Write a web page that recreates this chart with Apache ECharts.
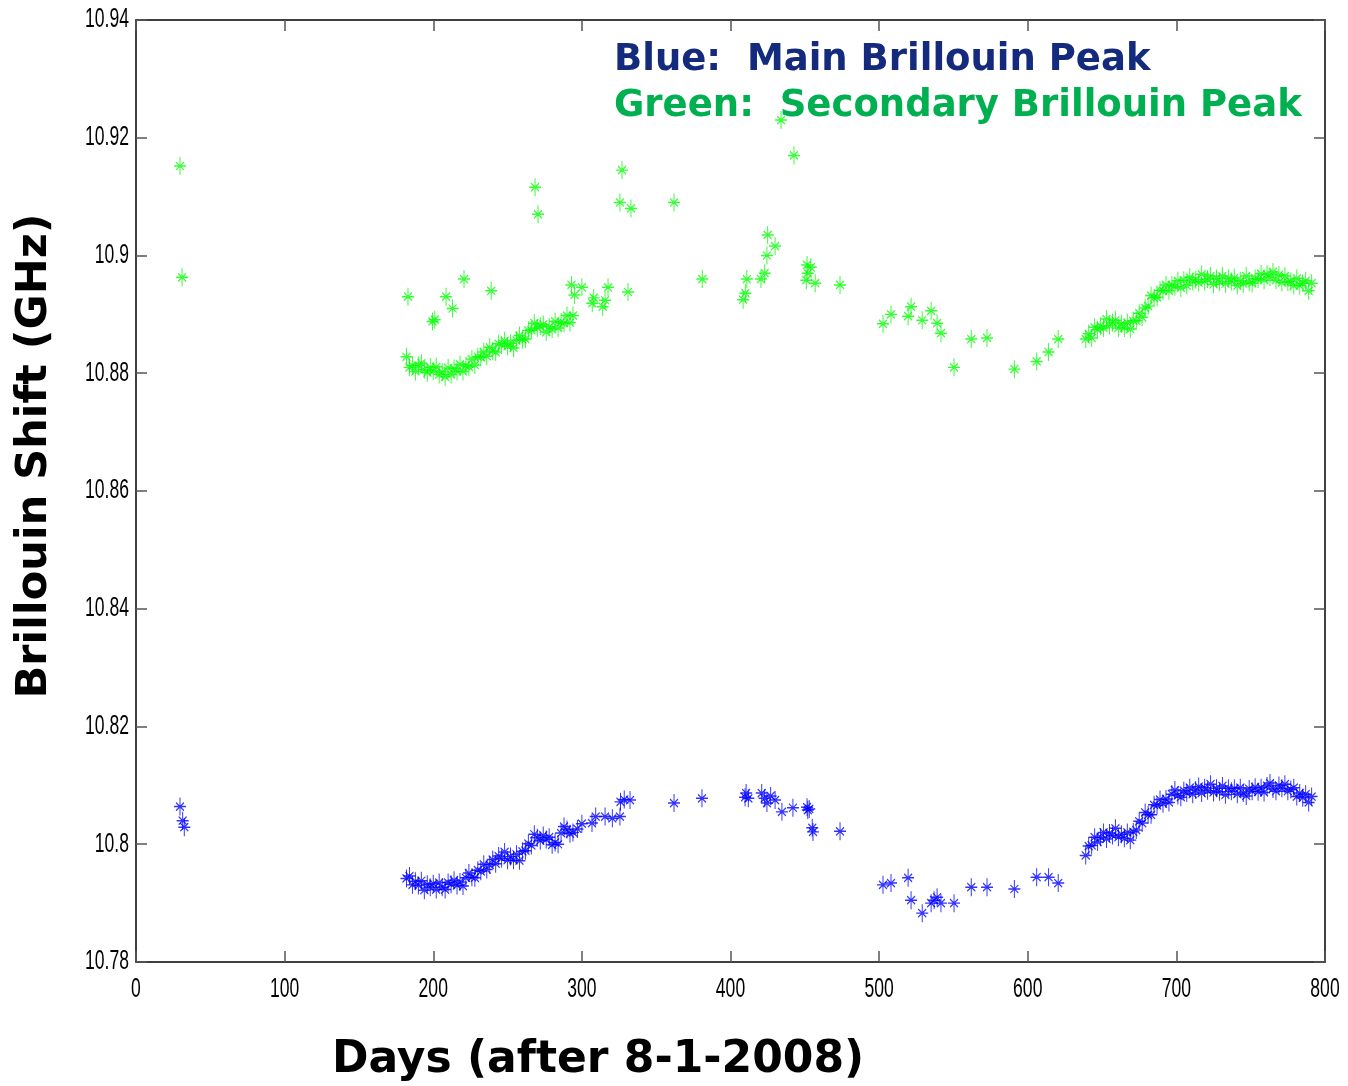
<!DOCTYPE html>
<html>
<head>
<meta charset="utf-8">
<title>Brillouin Shift vs Days</title>
<script src="https://cdn.jsdelivr.net/npm/echarts@6/dist/echarts.min.js"></script>
<style>
  html, body { margin: 0; padding: 0; background: #fff; }
  #chart { width: 1348px; height: 1086px; }
</style>
</head>
<body>
<div id="chart"></div>
<script>
// Main Brillouin peak (blue): measurement day and shift in GHz
const blueDays = [
  29.6, 31.4, 32.5,
  182, 184, 186, 188, 190, 192, 194, 196, 198, 200, 202, 204, 206, 208, 210, 212, 214, 216, 218, 220,
  222, 224, 226, 228, 230, 232, 234, 236, 238, 240, 242, 244, 246, 248, 250, 252, 254, 256, 258, 260,
  262, 264, 266, 268, 270, 272, 274, 276, 278, 280, 282, 284, 286, 288, 290, 292, 294,
  297, 300, 306.8, 309.3, 315.6, 320.5, 325.6, 326, 328.5, 332.4,
  362, 380.8, 409.8, 410.5, 412, 421, 423, 424.5, 427, 430, 434.6, 442, 451.5, 452, 453, 455, 455.5, 473.7,
  502.6, 508, 519.5, 521.5, 529, 535, 537, 539, 541.6, 550.4, 562, 572.6, 591, 606, 614, 620.5,
  639, 641, 643, 645, 647, 649, 651, 653, 655, 657, 659, 661, 663, 665, 667, 669, 671, 673, 675, 677,
  679, 681, 683, 685, 687, 689, 691, 693, 695, 697, 699, 701, 703, 705, 707, 709, 711, 713, 715, 717,
  719, 721, 723, 725, 727, 729, 731, 733, 735, 737, 739, 741, 743, 745, 747, 749, 751, 753, 755, 757,
  759, 761, 763, 765, 767, 769, 771, 773, 775, 777, 779, 781, 783, 785, 787, 789, 791
];
const blueGHz = [
  10.8064, 10.8040, 10.8029,
  10.7942, 10.7946, 10.7931, 10.7937, 10.7930, 10.7938, 10.7922, 10.7932, 10.7927, 10.7933, 10.7923, 10.7935, 10.7927, 10.7923, 10.7935, 10.7932, 10.7939, 10.7930, 10.7936, 10.7929,
  10.7943, 10.7951, 10.7944, 10.7943, 10.7956, 10.7954, 10.7966, 10.7957, 10.7965, 10.7974, 10.7967, 10.7980, 10.7976, 10.7987, 10.7973, 10.7979, 10.7973, 10.7983, 10.7972, 10.7988,
  10.7989, 10.8001, 10.7998, 10.8017, 10.8011, 10.8006, 10.8015, 10.8008, 10.8012, 10.7999, 10.8003, 10.8000, 10.8019, 10.8030, 10.8025, 10.8018, 10.8020,
  10.8026, 10.8035, 10.8036, 10.8047, 10.8047, 10.8044, 10.8047, 10.8072, 10.8076, 10.8075,
  10.8070, 10.8078, 10.8080, 10.8087, 10.8078, 10.8087, 10.8078, 10.8070, 10.8082, 10.8075, 10.8055, 10.8062, 10.8063, 10.8058, 10.8060, 10.8028, 10.8021, 10.8022,
  10.7931, 10.7934, 10.7943, 10.7905, 10.7883, 10.7900, 10.7905, 10.7910, 10.7900, 10.7900, 10.7927, 10.7927, 10.7924, 10.7944, 10.7944, 10.7934,
  10.7981, 10.7997, 10.7998, 10.8012, 10.8004, 10.8012, 10.8020, 10.8009, 10.8019, 10.8015, 10.8027, 10.8012, 10.8017, 10.8010, 10.8020, 10.8007, 10.8021, 10.8024, 10.8039, 10.8036,
  10.8054, 10.8050, 10.8050, 10.8067, 10.8066, 10.8076, 10.8069, 10.8077, 10.8071, 10.8085, 10.8092, 10.8083, 10.8080, 10.8091, 10.8087, 10.8096, 10.8085, 10.8092, 10.8098, 10.8087,
  10.8096, 10.8091, 10.8102, 10.8088, 10.8095, 10.8089, 10.8099, 10.8084, 10.8095, 10.8090, 10.8095, 10.8085, 10.8096, 10.8087, 10.8082, 10.8094, 10.8090, 10.8097, 10.8089, 10.8096,
  10.8088, 10.8099, 10.8104, 10.8094, 10.8090, 10.8100, 10.8095, 10.8102, 10.8090, 10.8093, 10.8096, 10.8081, 10.8087, 10.8079, 10.8085, 10.8071, 10.8081
];

// Secondary Brillouin peak (green): measurement day and shift in GHz
const greenDays = [
  29.6, 31,
  182, 183, 184, 186, 188, 190, 192, 194, 196, 198, 199.5, 200, 201, 202, 204, 206, 208, 208.6, 210, 212, 213, 214, 216, 218, 220, 220.7,
  222, 224, 226, 228, 230, 232, 234, 236, 238, 239, 240, 242, 244, 246, 248, 250, 252, 254, 256, 258, 260,
  262, 264, 266, 268, 268.5, 270, 270.5, 272, 274, 276, 278, 280, 282, 284, 286, 288, 290, 292, 293, 294, 295,
  300, 307, 308, 314, 315.6, 317.6, 325.6, 327, 331, 333,
  362, 381, 408.5, 410, 411, 420.5, 423, 424.5, 425, 430, 434, 442.7, 451, 451.5, 452, 454, 457, 473.7,
  502.6, 508, 519.5, 521.5, 529, 535, 539, 541.6, 550.4, 562, 572.6, 591, 606, 614, 620.5,
  639, 641, 643, 645, 647, 649, 651, 653, 655, 657, 659, 661, 663, 665, 667, 669, 671, 673, 675, 677,
  679, 681, 683, 685, 687, 689, 691, 693, 695, 697, 699, 701, 703, 705, 707, 709, 711, 713, 715, 717,
  719, 721, 723, 725, 727, 729, 731, 733, 735, 737, 739, 741, 743, 745, 747, 749, 751, 753, 755, 757,
  759, 761, 763, 765, 767, 769, 771, 773, 775, 777, 779, 781, 783, 785, 787, 789, 791
];
const greenGHz = [
  10.9152, 10.8963,
  10.8828, 10.8930, 10.8810, 10.8813, 10.8803, 10.8813, 10.8817, 10.8806, 10.8801, 10.8810, 10.8888, 10.8804, 10.8891, 10.8811, 10.8798, 10.8802, 10.8794, 10.8930, 10.8809, 10.8798, 10.8910, 10.8808, 10.8803, 10.8815, 10.8803, 10.8960,
  10.8813, 10.8811, 10.8824, 10.8814, 10.8828, 10.8827, 10.8836, 10.8829, 10.8844, 10.8940, 10.8838, 10.8836, 10.8850, 10.8848, 10.8855, 10.8846, 10.8851, 10.8843, 10.8856, 10.8864, 10.8857,
  10.8858, 10.8873, 10.8873, 10.8885, 10.9116, 10.8877, 10.9070, 10.8880, 10.8883, 10.8870, 10.8879, 10.8875, 10.8888, 10.8877, 10.8887, 10.8885, 10.8898, 10.8886, 10.8950, 10.8898, 10.8933,
  10.8946, 10.8919, 10.8928, 10.8913, 10.8924, 10.8946, 10.9090, 10.9145, 10.8938, 10.9080,
  10.9090, 10.8960, 10.8925, 10.8936, 10.8960, 10.8960, 10.8970, 10.9000, 10.9035, 10.9016, 10.9230, 10.9170, 10.8958, 10.8984, 10.8970, 10.8980, 10.8953, 10.8950,
  10.8884, 10.8900, 10.8897, 10.8913, 10.8890, 10.8906, 10.8885, 10.8868, 10.8810, 10.8858, 10.8860, 10.8807, 10.8820, 10.8836, 10.8858,
  10.8858, 10.8867, 10.8860, 10.8878, 10.8874, 10.8880, 10.8877, 10.8892, 10.8881, 10.8886, 10.8890, 10.8877, 10.8884, 10.8877, 10.8886, 10.8875, 10.8889, 10.8889, 10.8902, 10.8895,
  10.8911, 10.8914, 10.8932, 10.8928, 10.8929, 10.8941, 10.8940, 10.8950, 10.8940, 10.8950, 10.8947, 10.8957, 10.8945, 10.8958, 10.8949, 10.8963, 10.8956, 10.8959, 10.8954, 10.8968,
  10.8956, 10.8960, 10.8965, 10.8951, 10.8961, 10.8955, 10.8965, 10.8952, 10.8961, 10.8956, 10.8962, 10.8949, 10.8957, 10.8952, 10.8965, 10.8955, 10.8953, 10.8961, 10.8960, 10.8969,
  10.8958, 10.8968, 10.8963, 10.8972, 10.8958, 10.8967, 10.8954, 10.8965, 10.8955, 10.8956, 10.8949, 10.8961, 10.8949, 10.8953, 10.8957, 10.8940, 10.8953
];

// Axis ranges and tick labels
const xTickValues = [0, 100, 200, 300, 400, 500, 600, 700, 800];
const xTickLabels = ['0', '100', '200', '300', '400', '500', '600', '700', '800'];
const yTickValues = [10.78, 10.80, 10.82, 10.84, 10.86, 10.88, 10.90, 10.92, 10.94];
const yTickLabels = ['10.78', '10.8', '10.82', '10.84', '10.86', '10.88', '10.9', '10.92', '10.94'];

// MATLAB-style asterisk marker: plus sign with a cross through it
const asterisk = 'path://M0,-9L0,9M-6,0L6,0M-4,-4L4,4M-4,4L4,-4';

const pairs = (xs, ys) => xs.map((x, i) => [x, ys[i]]);

const tickFont = "'Liberation Sans', Arial, sans-serif";
const titleFont = "'DejaVu Sans', Verdana, sans-serif";

function frameAxis(extra) {
  return Object.assign({
    type: 'value',
    axisLine: { show: true, onZero: false, lineStyle: { color: '#000', width: 1.5 } },
    axisTick: { show: true, inside: true, length: 11, lineStyle: { color: '#555', width: 1.5 } },
    splitLine: { show: false },
    axisLabel: { show: false }
  }, extra);
}

const xRange = { min: xTickValues[0], max: xTickValues[xTickValues.length - 1], interval: 100 };
const yRange = { min: yTickValues[0], max: yTickValues[yTickValues.length - 1], interval: 0.02 };

const chart = echarts.init(document.getElementById('chart'), null, { renderer: 'canvas' });

const baseGraphics = [
  {
    type: 'text', x: 614, y: 60,
    style: { text: 'Blue:  Main Brillouin Peak', fill: '#142a7c', font: 'bold 37px ' + titleFont, verticalAlign: 'middle' }
  },
  {
    type: 'text', x: 614, y: 106,
    style: { text: 'Green:  Secondary Brillouin Peak', fill: '#00b050', font: 'bold 37px ' + titleFont, verticalAlign: 'middle' }
  },
  {
    type: 'text', x: 35, y: 456, rotation: Math.PI / 2,
    style: {
      text: 'Brillouin Shift (GHz)', fill: '#000', font: 'bold 43px ' + titleFont,
      align: 'center', verticalAlign: 'middle'
    }
  },
  {
    type: 'text', x: 598, y: 1061,
    style: {
      text: 'Days (after 8-1-2008)', fill: '#000', font: 'bold 44px ' + titleFont,
      align: 'center', verticalAlign: 'middle'
    }
  }
];

chart.setOption({
  animation: false,
  backgroundColor: '#fff',
  grid: { left: 136, right: 23, top: 20, bottom: 124, containLabel: false },
  xAxis: [
    frameAxis(Object.assign({}, xRange, { position: 'bottom' })),
    frameAxis(Object.assign({}, xRange, { position: 'top' }))
  ],
  yAxis: [
    frameAxis(Object.assign({}, yRange, { position: 'left' })),
    frameAxis(Object.assign({}, yRange, { position: 'right' }))
  ],
  series: [
    {
      name: 'Secondary Brillouin Peak',
      type: 'scatter',
      data: pairs(greenDays, greenGHz),
      symbol: asterisk,
      symbolSize: [12, 18],
      itemStyle: { color: 'rgba(0,0,0,0)', borderColor: '#00ff00', borderWidth: 1.2 },
      emphasis: { disabled: true }
    },
    {
      name: 'Main Brillouin Peak',
      type: 'scatter',
      data: pairs(blueDays, blueGHz),
      symbol: asterisk,
      symbolSize: [12, 18],
      itemStyle: { color: 'rgba(0,0,0,0)', borderColor: '#0000ff', borderWidth: 1.2 },
      emphasis: { disabled: true }
    }
  ],
  graphic: baseGraphics
});

// Narrow tick labels placed at the axis scale's tick positions
const tickGraphics = [];
xTickValues.forEach((v, i) => {
  const p = chart.convertToPixel({ xAxisIndex: 0, yAxisIndex: 0 }, [v, yRange.min]);
  tickGraphics.push({
    type: 'text', x: p[0], y: p[1] + 14, scaleX: 0.65,
    style: { text: xTickLabels[i], fill: '#000', font: '27px ' + tickFont, align: 'center', verticalAlign: 'top' }
  });
});
yTickValues.forEach((v, i) => {
  const p = chart.convertToPixel({ xAxisIndex: 0, yAxisIndex: 0 }, [xRange.min, v]);
  tickGraphics.push({
    type: 'text', x: p[0] - 7, y: p[1], scaleX: 0.65,
    style: { text: yTickLabels[i], fill: '#000', font: '27px ' + tickFont, align: 'right', verticalAlign: 'middle' }
  });
});
chart.setOption({ graphic: baseGraphics.concat(tickGraphics) });
</script>
</body>
</html>
